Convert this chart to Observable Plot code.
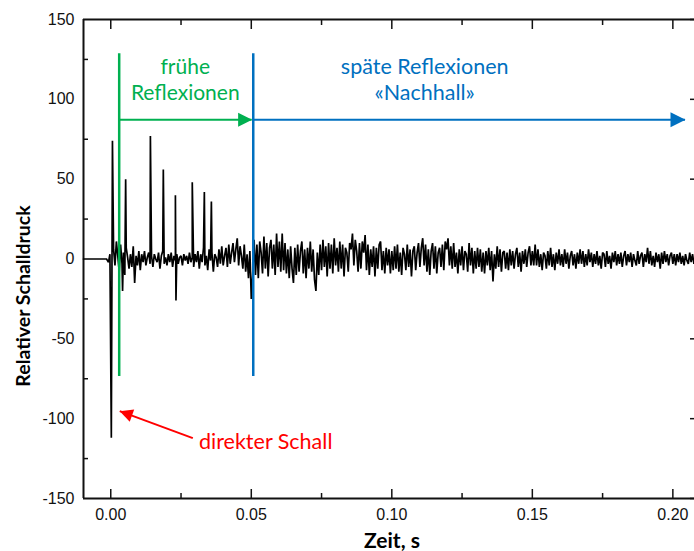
<!DOCTYPE html>
<html><head><meta charset="utf-8">
<script src="https://cdn.jsdelivr.net/npm/d3@7"></script>
<script src="https://cdn.jsdelivr.net/npm/@observablehq/plot@0.6"></script>
<style>body{margin:0;background:#fff}</style>
</head><body><div id="chart"></div>
<script>
// ---- Data ----
// Direct sound (time in s, relative sound pressure)
const directTime  = [-0.0097, -0.0015, -0.0008, -0.0003, 0.0002, 0.0006];
const directValue = [0, 0, -2, 3, -112, 74];

// Reverberant sound, sampled every 0.5 ms starting at 1 ms
const noiseStart = 0.001, noiseStep = 0.0005;
const noiseValues = [
  6, -4, 11, 2, -8, 9, -3, 4, -10, 7, 1, -6, 3, -5, 8, -15, 2, -4, 5, -7,
  3, -2, 5, -4, 1, 4, -3, 2, -5, 3, 0, -2, 4, -6, 2, 5, -3, 1, -4, 3,
  -2, 4, -5, 2, -1, 3, -3, 1, 2, -4, 3, -1, 2, -3, 4, -2, 1, -5, 3, -2,
  5, -6, 3, -2, 7, -4, 2, -7, 6, -1, 4, -8, 3, 1, -5, 6, -3, 8, -4, 2,
  7, -5, 9, -3, 4, 10, -2, 6, 13, -4, 8, 2, -6, 9, -8, 3, -12, 5, -25, -10,
  12, -10, 9, -12, 11, 4, -9, 14, -6, 10, -11, 7, 12, -6, 9, -10, 16, -5, 11, -8,
  16, -7, 10, -9, 6, -12, 8, -6, -15, 7, -10, 9, -8, 5, 11, -9, 6, -12, 7, -6,
  11, -8, 6, -13, -20, 4, -10, 9, -7, 12, -5, 8, -11, 10, -6, 9, -9, 13, -4, 7,
  -8, 11, -6, 9, -11, 7, 4, -8, 10, 6, 16, -4, 12, 5, -8, 10, -6, 11, 4, 15,
  -7, 9, -10, 6, -5, 8, -11, 7, -6, 9, 11, -7, 5, -9, 7, -4, 6, -9, 5, -7,
  8, -6, 9, -8, 4, -10, 7, 3, -7, 9, -5, 6, -11, 5, 8, -7, 4, 10, -5, 7,
  13, -4, 9, -8, 6, -10, 5, 10, -6, 8, -9, 4, 7, -5, 9, -7, 11, 6, 13, -4,
  8, -6, 10, -5, 4, -9, 6, -4, 8, -7, 5, 3, -8, 10, -4, 7, -9, 5, -6, 7,
  -5, 6, -8, 4, -9, 5, -4, 7, -7, 5, -14, 3, -6, 8, -5, 6, -8, 4, 5, -6,
  4, -7, 6, -4, 5, -6, 3, 7, -5, 4, -8, 5, -3, 6, -5, 4, 8, -4, 5, -4,
  9, -4, 6, -5, 3, -7, 4, 2, -6, 5, -4, 7, -5, 3, -7, 4, -3, 6, -4, 3,
  -5, 6, -3, 4, -6, 2, 5, -4, 3, -6, 4, -3, 6, -3, 5, -5, 3, -4, 6, -2,
  4, -5, 3, -3, 5, -4, 2, -6, 4, 3, -5, 5, -3, 2, -6, 4, -2, 5, -4, 3,
  -3, 4, -5, 2, 5, -4, 3, -2, 4, -5, 3, -1, -4, 5, -3, 2, 4, -5, 3, -2,
  7, -3, 5, -4, 2, -5, 4, -2, 3, -6, 4, -3, 5, -2, 3, -4, 2, 4, -3, 3,
  -4, 3, -2, 4, -3, 2, -4, 3, -1, -3, 4, -2, 3, -3, 2
];

// Discrete early reflections
const reflectionTime  = [0.0042, 0.0053, 0.0141, 0.0187, 0.0230, 0.0232, 0.0290, 0.0333, 0.0358];
const reflectionValue = [-20, 50, 77, 56, 40, -26, 48, 42, 36];

// Annotation anchors (data units)
const earlyStart = 0.003, lateStart = 0.0507, earlyArrowEnd = 0.0503, lateArrowEnd = 0.2045;
const markerTop = 128.5, markerBottom = -73.6, arrowLevel = 87.2;
const earlyLabel = ["frühe", "Reflexionen"];
const lateLabel = ["späte Reflexionen", "«Nachhall»"];
const labelLevels = [120.2, 103.7];
const earlyLabelX = 0.0265, lateLabelX = 0.1117;
const directLabel = "direkter Schall";
const directArrowFrom = [0.0292, -112.2], directArrowTo = [0.0032, -95.3];
const directLabelPos = [0.0314, -114.9];

// Axes
const xDomain = [-0.0097, 0.2077];
const yDomain = [-150, 150];
const xMajor = [0, 0.05, 0.10, 0.15, 0.20];
const xTickLabels = ["0.00", "0.05", "0.10", "0.15", "0.20"];
const xMinor = [0.025, 0.075, 0.125, 0.175];
const yMajor = [150, 100, 50, 0, -50, -100, -150];
const yTickLabels = ["150", "100", "50", "0", "-50", "-100", "-150"];
const yMinor = [125, 75, 25, -25, -75, -125];
const xTitle = "Zeit, s";
const yTitle = "Relativer Schalldruck";

// ---- Build ----
const signal = [];
directTime.forEach((t, i) => signal.push({t, p: directValue[i]}));
noiseValues.forEach((p, i) => signal.push({t: noiseStart + i * noiseStep, p}));
reflectionTime.forEach((t, i) => signal.push({t, p: reflectionValue[i]}));
signal.sort((a, b) => a.t - b.t);

const green = "#00b050", blue = "#0070c0", red = "#ff0000";
const headShape = {draw(context, l) { const w = l * 0.5; context.moveTo(-w, 0); context.lineTo(0, -l); context.lineTo(w, 0); context.closePath(); }};
const annFont = "Lato, 'Open Sans', sans-serif";

const plot = Plot.plot({
  width: 694, height: 551,
  marginLeft: 83, marginRight: 0, marginTop: 19, marginBottom: 53,
  style: {fontFamily: "'Liberation Sans', Arial, sans-serif", fontSize: "16px", background: "#fff", color: "#111"},
  x: {domain: xDomain},
  y: {domain: yDomain},
  marks: [
    // frame (left, top, bottom)
    Plot.ruleX([xDomain[0]], {strokeWidth: 2}),
    Plot.ruleY(yDomain, {strokeWidth: 2}),
    // ticks
    Plot.axisX(xMajor, {anchor: "bottom", tickSize: -9, strokeWidth: 1.5, fill: "none", label: null}),
    Plot.axisX(xMinor, {anchor: "bottom", tickSize: -5, strokeWidth: 1.5, fill: "none", label: null}),
    Plot.axisX(xMajor, {anchor: "top", tickSize: -9, strokeWidth: 1.5, fill: "none", label: null}),
    Plot.axisX(xMinor, {anchor: "top", tickSize: -5, strokeWidth: 1.5, fill: "none", label: null}),
    Plot.axisY(yMinor, {anchor: "left", tickSize: -5, strokeWidth: 1.5, fill: "none", label: null}),
    Plot.axisY(yMajor, {anchor: "right", tickSize: -5, strokeWidth: 1.5, fill: "none", label: null}),
    // tick labels
    Plot.axisX(xMajor, {anchor: "bottom", tickSize: 0, tickPadding: 10, tickFormat: d => xTickLabels[xMajor.indexOf(d)], label: null}),
    Plot.axisY(yMajor, {anchor: "left", tickSize: 0, tickPadding: 9, tickFormat: d => yTickLabels[yMajor.indexOf(d)], label: null}),
    // axis titles
    Plot.text([xTitle], {frameAnchor: "bottom", lineAnchor: "middle", textAnchor: "middle", dx: 3, dy: 43, text: d => d, fontFamily: annFont, fontWeight: "bold", fontSize: 21, fill: "#000"}),
    Plot.text([yTitle], {frameAnchor: "left", lineAnchor: "middle", textAnchor: "middle", dx: -60, dy: 37, rotate: -90, text: d => d, fontFamily: annFont, fontWeight: "bold", fontSize: 19.5, fill: "#000"}),
    // signal
    Plot.line(signal, {x: "t", y: "p", stroke: "#000", strokeWidth: 1.7, strokeLinejoin: "miter", strokeMiterlimit: 2}),
    // region markers
    Plot.ruleX([earlyStart], {y1: markerBottom, y2: markerTop, stroke: green, strokeWidth: 2.5}),
    Plot.ruleX([lateStart], {y1: markerBottom, y2: markerTop, stroke: blue, strokeWidth: 2.5}),
    Plot.ruleY([arrowLevel], {x1: earlyStart, x2: earlyArrowEnd, stroke: green, strokeWidth: 2}),
    Plot.vector([earlyArrowEnd], {x: d => d, y: arrowLevel, rotate: 90, length: 14, anchor: "end", shape: headShape, fill: green, stroke: "none"}),
    Plot.ruleY([arrowLevel], {x1: lateStart, x2: lateArrowEnd, stroke: blue, strokeWidth: 2}),
    Plot.vector([lateArrowEnd], {x: d => d, y: arrowLevel, rotate: 90, length: 15, anchor: "end", shape: headShape, fill: blue, stroke: "none"}),
    // labels
    Plot.text(earlyLabel, {x: earlyLabelX, y: (d, i) => labelLevels[i], text: d => d, fill: green, fontFamily: annFont, fontSize: 21}),
    Plot.text(lateLabel, {x: lateLabelX, y: (d, i) => labelLevels[i], text: d => d, fill: blue, fontFamily: annFont, fontSize: 21.5}),
    // direct sound annotation
    Plot.link([0], {x1: directArrowFrom[0], y1: directArrowFrom[1], x2: directArrowTo[0], y2: directArrowTo[1], stroke: red, strokeWidth: 2}),
    Plot.vector([0], {x: directArrowTo[0], y: directArrowTo[1], rotate: -70, length: 13, anchor: "end", shape: headShape, fill: red, stroke: "none"}),
    Plot.text([directLabel], {x: directLabelPos[0], y: directLabelPos[1], text: d => d, textAnchor: "start", fill: red, fontFamily: annFont, fontSize: 21.5})
  ]
});
document.getElementById("chart").append(plot);
</script>
</body></html>
